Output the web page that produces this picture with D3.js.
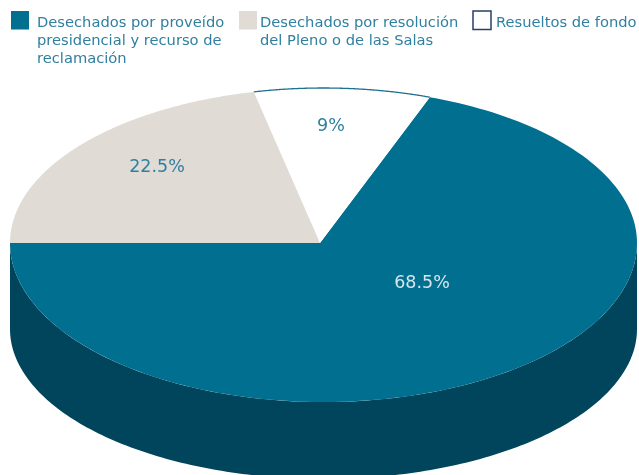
<!DOCTYPE html>
<html><head><meta charset="utf-8">
<script src="https://cdn.jsdelivr.net/npm/d3@7"></script>
<style>html,body{margin:0;padding:0;background:#fff}svg{display:block;filter:blur(0.5px)}text{font-family:"DejaVu Sans",sans-serif}</style>
</head><body><svg id="c" width="639" height="475"></svg>
<script>
const categories = ["Desechados por proveído presidencial y recurso de reclamación","Desechados por resolución del Pleno o de las Salas","Resueltos de fondo"];
const values = [68.5,22.5,9];
const valueLabels = ["68.5%","22.5%","9%"];
const legendLines = [["Desechados por proveído","presidencial y recurso de","reclamación"],["Desechados por resolución","del Pleno o de las Salas"],["Resueltos de fondo"]];
const colors = ["#006f90","#e0dbd5","#ffffff"];
const drawOrder = [0,2,1];
const sideColor = "#00455b", textColor = "#2f80a0";
const W=639,H=475, cx=323.5, cy=243, rx=313.5, ryTop=155, ryBot=159, apex=[320,243];
const lowCy=329, lowRy=150;
const svg=d3.select("#c");
// teal runs from 9 o'clock counter-clockwise, then white, then grey
const pie=d3.pie().value(i=>values[i]).sort(null).startAngle(-Math.PI/2).endAngle(-Math.PI*2.5);
const arcs=pie(drawOrder);
const warp=a=>a-0.068*Math.cos(a);   // slight perspective shift of the slice edges
const pt=(a)=>{const w=warp(a),c=Math.cos(w);return [cx+rx*Math.sin(w), cy-(c>0?ryTop:ryBot)*c];};
const line=d3.line();
const angles=(a0,a1)=>d3.range(0,181).map(i=>a0+(a1-a0)*i/180);
// side wall of front half
const front=angles(Math.PI/2,Math.PI*1.5);
const lowPts=front.map(a=>[cx+rx*Math.sin(a),lowCy-lowRy*Math.cos(a)]);
const topPts=front.map(a=>[cx+rx*Math.sin(a),cy-ryBot*Math.cos(a)]);
svg.append("path").attr("d",line(topPts.concat(lowPts.reverse()))+"Z").attr("fill",sideColor);
// top faces
arcs.forEach(d=>{
  const i=d.data;
  const pts=angles(d.startAngle,d.endAngle).map(pt);
  svg.append("path").attr("d",line([apex].concat(pts))+"Z").attr("fill",colors[i]);
  if(i===2) svg.append("path").attr("d",line(pts)).attr("fill","none").attr("stroke","#1f6f8e").attr("stroke-width",1.3);
});
// value labels
const labelPos=[[422,283],[157,167],[331,126]];
const labelFill=["#d8e6ec",textColor,textColor];
svg.selectAll("text.v").data(valueLabels).join("text").attr("class","v")
  .attr("x",(d,i)=>labelPos[i][0]).attr("y",(d,i)=>labelPos[i][1]).attr("text-anchor","middle")
  .attr("dominant-baseline","middle").attr("font-size",17.5).attr("fill",(d,i)=>labelFill[i]).text(d=>d);
// legend
const swX=[11,239,473], txX=[37,260,496], swW=[18,18,18];
const strokes=[null,null,"#2b3f62"];
categories.forEach((c,i)=>{
  svg.append("rect").attr("x",swX[i]).attr("y",11).attr("width",swW[i]).attr("height",18.5)
    .attr("fill",colors[i]).attr("stroke",strokes[i]||"none").attr("stroke-width",1.5);
  legendLines[i].forEach((t,j)=>svg.append("text").attr("x",txX[i]).attr("y",27+j*18)
    .attr("font-size",14.7).attr("fill",textColor).text(t));
});
</script></body></html>
